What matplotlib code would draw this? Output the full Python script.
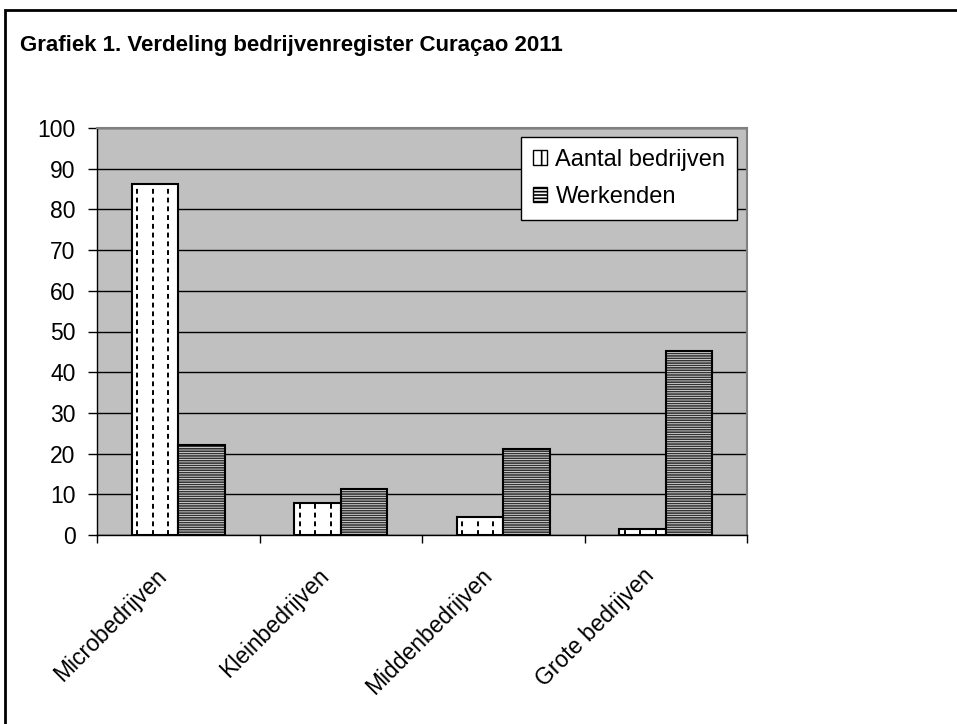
import numpy as np
import matplotlib
matplotlib.use('Agg')
from matplotlib import pyplot as plt
from matplotlib.patches import Patch, Rectangle
from matplotlib.transforms import ScaledTranslation

# data (percent)
categories = ['Microbedrijven', 'Kleinbedrijven', 'Middenbedrijven', 'Grote bedrijven']
aantal_bedrijven = [86.2, 7.8, 4.3, 1.4]
werkenden = [22.1, 11.2, 21.1, 45.3]
y_ticks = list(range(0, 101, 10))
title = 'Grafiek 1. Verdeling bedrijvenregister Curaçao 2011'

plt.rcParams['font.family'] = ['Liberation Sans', 'DejaVu Sans']
plt.rcParams['hatch.linewidth'] = 1.2

fig = plt.figure(figsize=(9.57, 7.24), dpi=100)
fig.patch.set_facecolor('white')

# outer frame (only top and left visible in the picture)
fig.patches.append(Rectangle((5 / 957, -0.05), 1.2, 1 - 10 / 724 + 0.05,
                             transform=fig.transFigure, fill=False,
                             edgecolor='black', linewidth=2))

fig.text(20 / 957, 1 - 46 / 724, title, fontsize=16, fontweight='bold',
         ha='left', va='center')

ax = fig.add_axes([97 / 957, 1 - 535 / 724, 650 / 957, 407 / 724])
ax.set_facecolor('#c0c0c0')

x = np.arange(len(categories))
bw = 1 / 3.5

bars_a = ax.bar(x - bw / 2, aantal_bedrijven, bw, color='white',
                edgecolor='black', linewidth=1.5, zorder=3)
bars_w = ax.bar(x + bw / 2, werkenden, bw, color='white',
                edgecolor='black', linewidth=1.5, hatch='-------', zorder=3)
for b in bars_w:
    b._hatch_color = (0.2, 0.2, 0.2, 1.0)

# dashed vertical pattern inside the "aantal" bars
for b in bars_a:
    x0 = b.get_x()
    w = b.get_width()
    for f in [0.12, 0.45, 0.78]:
        ln = ax.vlines(x0 + f * w, 0, b.get_height(), colors='black',
                       linestyles=(0, (2.5, 2)), linewidth=1.4, zorder=4)
        ln.set_clip_path(b)

ax.set_ylim(0, 100)
ax.set_xlim(-0.5, len(categories) - 0.5)
ax.set_yticks(y_ticks)
ax.yaxis.grid(True, color='black', linewidth=1)
ax.set_axisbelow(True)

ax.set_xticks(x)
ax.set_xticklabels(categories, rotation=45, ha='right', va='top',
                   rotation_mode='anchor', fontsize=16.5)
ax.tick_params(axis='x', which='major', length=0, pad=21)
shift = ScaledTranslation(-23 / 100, 0, fig.dpi_scale_trans)
for lbl in ax.get_xticklabels():
    lbl.set_transform(lbl.get_transform() + shift)
ax.set_xticks(np.arange(-0.5, len(categories)), minor=True)
ax.tick_params(axis='x', which='minor', length=5.5, width=1, direction='out')
ax.tick_params(axis='y', length=6.5, width=1, direction='out', labelsize=16.5, pad=9)

for s in ['top', 'right']:
    ax.spines[s].set_color('#808080')
    ax.spines[s].set_linewidth(1.5)
for s in ['left', 'bottom']:
    ax.spines[s].set_color('black')
    ax.spines[s].set_linewidth(1)

handles = [Patch(facecolor='white', edgecolor='black', hatch='|', label='Aantal bedrijven'),
           Patch(facecolor='white', edgecolor='black', hatch='-----', label='Werkenden')]
leg = ax.legend(handles=handles, loc='upper right', bbox_to_anchor=(0.985, 0.978),
                fontsize=17, fancybox=False, edgecolor='black', framealpha=1,
                handlelength=0.6, handleheight=0.6, handletextpad=0.35,
                labelspacing=0.65, borderpad=0.5, borderaxespad=0)
leg.get_frame().set_linewidth(1)

fig.savefig('out.png', dpi=100)
